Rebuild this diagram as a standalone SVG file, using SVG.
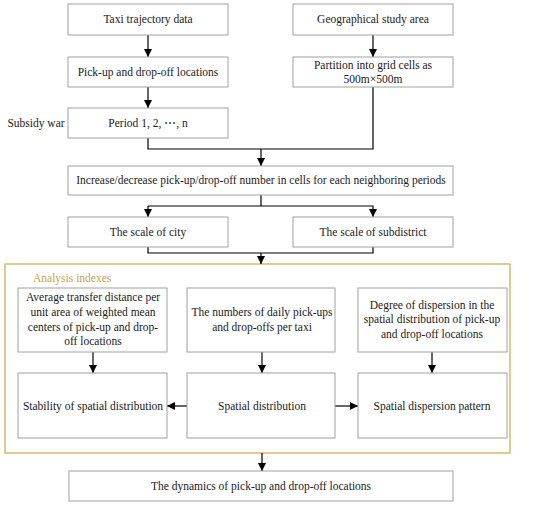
<svg xmlns="http://www.w3.org/2000/svg" width="550" height="506" viewBox="0 0 550 506">
<defs>
<marker id="ah" viewBox="0 0 10 10" refX="10" refY="5" markerWidth="8" markerHeight="8" markerUnits="userSpaceOnUse" orient="auto">
<path d="M0,0 L10,5 L0,10 z" fill="#000"/>
</marker>
</defs>
<style>
.box{fill:#fff;stroke:#a0a0a0;stroke-width:1}
.t{font-size:11.5px;fill:#1a1a1a;text-anchor:middle}
.c{fill:none;stroke:#000;stroke-width:1.2}
.a{marker-end:url(#ah)}
</style>
<rect width="550" height="506" fill="#fff"/>
<g id="analysis-frame">
<rect x="5" y="264" width="505" height="189" fill="#fff" stroke="#d9b96a" stroke-width="1.5"/>
<text x="33" y="282" font-family="Liberation Serif, Times New Roman, serif" font-size="11.5" fill="#c9a24e">Analysis indexes</text>
</g>
<g id="connectors">
<path class="c a" d="M148,35 V57"/>
<path class="c a" d="M373,35 V57"/>
<path class="c a" d="M148,87 V108"/>
<path class="c" d="M148,138 V149 H373 V87"/>
<path class="c a" d="M261,149 V166"/>
<path class="c" d="M261,195 V206"/>
<path class="c a" d="M148,206 H373 V217"/>
<path class="c a" d="M148,206 V217"/>
<path class="c" d="M148,247 V253 H373 V247"/>
<path class="c a" d="M261,253 V264"/>
<path class="c a" d="M93,352 V373"/>
<path class="c a" d="M262,352 V373"/>
<path class="c a" d="M432,352 V373"/>
<path class="c a" d="M187,406 H167"/>
<path class="c a" d="M335,406 H358"/>
<path class="c a" d="M262,453 V471"/>
</g>
<g font-family="Liberation Serif, Times New Roman, serif">
<g id="n-taxi"><rect class="box" x="68" y="4" width="160" height="31"/><text class="t" x="148" y="23">Taxi trajectory data</text></g>
<g id="n-geo"><rect class="box" x="293" y="4" width="160" height="31"/><text class="t" x="373" y="23">Geographical study area</text></g>
<g id="n-pickup"><rect class="box" x="68" y="57" width="160" height="30"/><text class="t" x="148" y="76">Pick-up and drop-off locations</text></g>
<g id="n-partition"><rect class="box" x="293" y="57" width="160" height="30"/><text class="t" x="373" y="69">Partition into grid cells as</text><text class="t" x="373" y="83">500m×500m</text></g>
<g id="n-subsidy"><text class="t" x="36" y="127">Subsidy war</text></g>
<g id="n-period"><rect class="box" x="68" y="108" width="160" height="30"/><text class="t" x="148" y="127">Period 1, 2, ⋯, n</text></g>
<g id="n-increase"><rect class="box" x="68" y="166" width="385" height="29"/><text class="t" x="261" y="184">Increase/decrease pick-up/drop-off number in cells for each neighboring periods</text></g>
<g id="n-city"><rect class="box" x="68" y="217" width="160" height="30"/><text class="t" x="148" y="236">The scale of city</text></g>
<g id="n-subdistrict"><rect class="box" x="293" y="217" width="160" height="30"/><text class="t" x="373" y="236">The scale of subdistrict</text></g>
<g id="n-avg"><rect class="box" x="18" y="288" width="149" height="64"/>
<text class="t" x="93" y="301">Average transfer distance per</text>
<text class="t" x="93" y="316">unit area of weighted mean</text>
<text class="t" x="93" y="331">centers of pick-up and drop-</text>
<text class="t" x="93" y="345">off locations</text></g>
<g id="n-numbers"><rect class="box" x="187" y="288" width="148" height="64"/>
<text class="t" x="262" y="316">The numbers of daily pick-ups</text>
<text class="t" x="262" y="331">and drop-offs per taxi</text></g>
<g id="n-degree"><rect class="box" x="358" y="288" width="149" height="64"/>
<text class="t" x="432" y="309">Degree of dispersion in the</text>
<text class="t" x="432" y="323">spatial distribution of pick-up</text>
<text class="t" x="432" y="338">and drop-off locations</text></g>
<g id="n-stability"><rect class="box" x="18" y="373" width="149" height="65"/><text class="t" x="93" y="410">Stability of spatial distribution</text></g>
<g id="n-spatial"><rect class="box" x="187" y="373" width="148" height="65"/><text class="t" x="262" y="410">Spatial distribution</text></g>
<g id="n-dispersion"><rect class="box" x="358" y="373" width="149" height="65"/><text class="t" x="432" y="410">Spatial dispersion pattern</text></g>
<g id="n-dynamics"><rect class="box" x="69" y="471" width="384" height="30"/><text class="t" x="261" y="490">The dynamics of pick-up and drop-off locations</text></g>
</g>
</svg>
